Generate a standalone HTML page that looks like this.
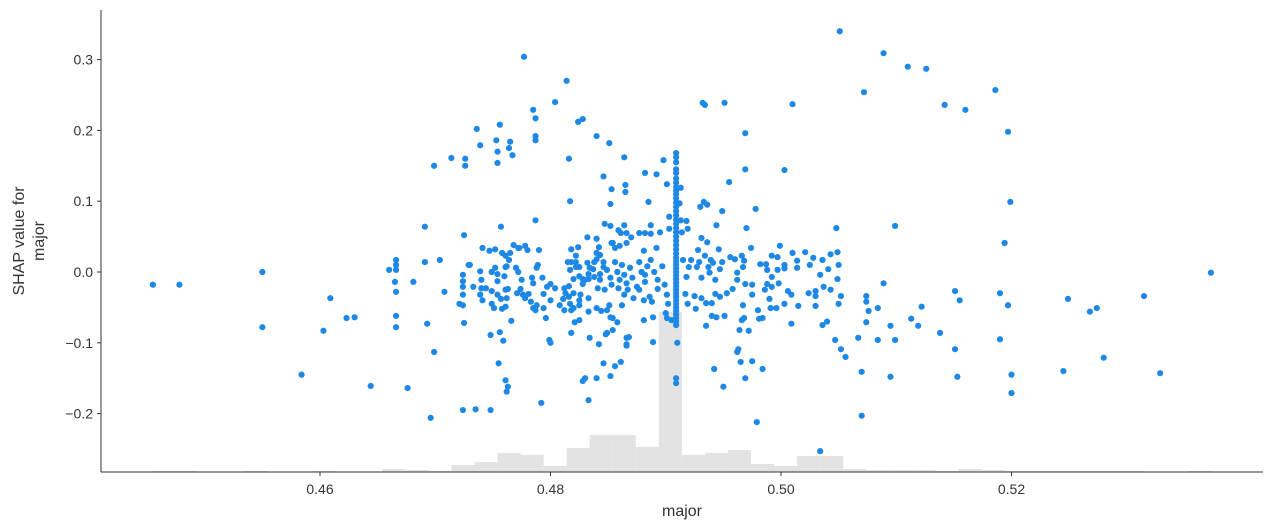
<!DOCTYPE html>
<html><head><meta charset="utf-8"><style>
body{margin:0;background:#fff;}
svg{display:block;font-family:"Liberation Sans","DejaVu Sans",sans-serif;}
</style></head><body>
<svg id="chart" width="1273" height="530" viewBox="0 0 1273 530" xmlns="http://www.w3.org/2000/svg">
<g id="hist"></g>
<g id="dots"></g>
<g id="axes"></g>
<text x="682" y="516" text-anchor="middle" font-size="16" fill="#333">major</text>
<text transform="translate(24,241) rotate(-90)" text-anchor="middle" font-size="16" fill="#333"><tspan x="0" y="0">SHAP value for</tspan><tspan x="0" y="20">major</tspan></text>
</svg>
<script>
const xTicks=[0.46,0.48,0.50,0.52];
const xTickLabels=["0.46","0.48","0.50","0.52"];
const yTicks=[-0.2,-0.1,0.0,0.1,0.2,0.3];
const yTickLabels=["−0.2","−0.1","0.0","0.1","0.2","0.3"];
const histStart=0.4454, histWidth=0.002;
const histCounts=[1,1,0,0,1,0,0,1,0,0,3,2,1,7,10,19,17,6,24,37,37,25,160,17,19,22,8,6,16,16,3,2,2,2,1,3,2,1,1,1,1,1,1,0,0,1];
const columnX=0.4909;
const columnY=[0.168,0.162,0.155,0.145,0.14,0.132,0.126,0.12,0.115,0.11,0.104,0.098,0.092,0.086,0.08,0.074,0.068,0.062,0.056,0.05,0.044,0.038,0.032,0.026,0.02,0.015,0.01,0.005,0,-0.005,-0.01,-0.015,-0.02,-0.025,-0.03,-0.035,-0.04,-0.045,-0.05,-0.055,-0.06,-0.065,-0.07,-0.075,-0.15,-0.157];
const points=[
[0.4455,-0.018],[0.4478,-0.018],[0.455,0.0],[0.455,-0.078],[0.4584,-0.145],[0.4603,-0.083],[0.4609,-0.037],[0.4623,-0.065],[0.4630,-0.064],[0.4644,-0.161],[0.466,0.003],[0.4665,-0.014],
[0.4666,0.003],[0.4666,0.017],[0.4666,0.01],[0.4666,-0.028],[0.4666,-0.062],[0.4666,-0.078],[0.4676,-0.164],[0.4681,-0.014],[0.4691,0.064],[0.4691,0.014],[0.4693,-0.073],[0.4696,-0.206],[0.4699,0.15],[0.4699,-0.113],[0.4704,0.017],[0.4708,-0.028],[0.4714,0.161],[0.4721,-0.045],
[0.4724,-0.004],[0.4724,-0.013],[0.4724,-0.021],[0.4724,-0.032],[0.4724,-0.047],[0.4726,0.16],[0.4726,0.15],[0.4725,0.052],[0.4725,-0.072],[0.4724,-0.195],[0.473,0.01],[0.4735,-0.194],[0.4736,0.202],[0.4739,0.179],
[0.4748,-0.195],[0.4748,-0.089],[0.4751,-0.051],[0.4752,0.032],[0.4753,0.186],[0.4754,0.154],[0.4754,0.17],[0.4756,0.208],[0.4755,-0.129],[0.4756,-0.085],[0.4757,0.064],[0.4759,-0.097],[0.4761,-0.153],[0.4762,-0.169],[0.4763,-0.162],[0.4764,0.175],[0.4765,0.184],[0.4767,0.165],[0.4766,-0.069],[0.4768,0.038],[0.4772,0.034],[0.4777,0.304],[0.4778,0.037],[0.4785,0.229],[0.4787,0.186],[0.4787,0.192],[0.4787,0.073],[0.4787,0.217],[0.4792,-0.185],[0.479,0.031],[0.4799,-0.096],[0.48,-0.1],
[0.4804,0.24],[0.4814,0.27],[0.4816,0.16],[0.4817,0.1],[0.4818,-0.086],[0.4824,0.212],[0.4828,0.216],[0.4828,-0.154],[0.483,-0.15],[0.4833,-0.181],[0.484,0.192],[0.484,-0.15],[0.4846,-0.129],[0.4851,0.182],[0.4852,-0.147],[0.4846,0.135],[0.4856,-0.133],[0.4861,-0.127],[0.4864,0.162],[0.4866,-0.104],[0.4868,-0.092],[0.4882,0.14],[0.4889,-0.099],[0.4892,0.138],[0.4898,0.158],[0.491,-0.1],
[0.4932,0.239],[0.4934,0.236],[0.4951,0.239],[0.4942,-0.137],[0.495,-0.162],[0.4962,-0.113],[0.4963,-0.109],[0.4965,-0.127],[0.4969,-0.15],[0.4975,-0.126],[0.4979,-0.212],[0.4984,-0.137],[0.4969,0.196],[0.4969,0.145],[0.4978,0.089],[0.5003,0.144],[0.501,0.237],[0.5048,0.062],[0.5051,0.34],[0.5034,-0.253],[0.5047,-0.096],[0.5052,-0.109],[0.5056,-0.12],[0.5067,-0.093],[0.507,-0.141],[0.507,-0.203],[0.5072,0.254],[0.5089,0.309],[0.5099,-0.096],[0.511,0.29],[0.5126,0.287],[0.5142,0.236],[0.516,0.229],[0.5186,0.257],[0.5197,0.198],[0.5199,0.099],[0.5194,0.041],[0.5197,-0.047],[0.52,-0.171],[0.52,-0.145],[0.519,-0.03],[0.519,-0.095],
[0.5155,-0.04],[0.5151,-0.027],[0.5151,-0.109],[0.5153,-0.148],[0.5138,-0.086],[0.5119,-0.076],[0.5122,-0.049],[0.5113,-0.066],[0.5095,-0.076],[0.5084,-0.096],[0.5095,-0.148],[0.5089,-0.016],[0.5099,0.065],[0.5074,-0.034],[0.5074,-0.042],[0.5074,-0.071],[0.5084,-0.051],[0.5076,-0.055],
[0.5249,-0.038],[0.5245,-0.14],[0.5268,-0.056],[0.5274,-0.051],[0.528,-0.121],[0.5315,-0.034],[0.5329,-0.143],[0.5373,-0.001],
[0.4729,0.010],[0.4733,-0.021],[0.4739,0.001],[0.4740,-0.011],[0.4740,-0.023],[0.4741,0.034],[0.4747,0.030],[0.4744,-0.023],[0.4739,-0.032],[0.4741,-0.040],[0.4749,0.000],[0.4752,0.006],[0.4754,-0.003],[0.4754,-0.013],[0.4749,-0.027],[0.4749,-0.045],[0.4754,-0.032],[0.4757,-0.038],[0.4758,-0.052],[0.4760,-0.006],[0.4761,0.007],[0.4762,0.008],[0.4758,0.027],[0.4761,0.023],[0.4764,0.017],[0.4765,0.027],[0.4773,0.034],[0.4780,0.031],[0.4770,0.006],[0.4772,0.0],[0.4761,-0.025],[0.4763,-0.024],[0.4762,-0.037],[0.4761,-0.049],[0.4771,-0.030],[0.4774,-0.024],[0.4775,-0.011],[0.4776,-0.032],[0.4778,-0.037],[0.4781,-0.031],[0.4784,-0.008],[0.4785,-0.016],[0.4788,0.006],[0.4789,0.010],[0.4793,-0.008],[0.4794,-0.031],[0.4797,-0.021],[0.4783,-0.042],[0.4785,-0.051],[0.4787,-0.054],[0.4788,-0.047],[0.4794,-0.051],[0.4796,-0.065],
[0.4800,-0.017],[0.4804,-0.023],[0.4800,-0.040],[0.4808,-0.047],[0.4811,-0.038],[0.4812,-0.023],[0.4813,-0.030],[0.4812,-0.054],[0.4816,-0.035],[0.4817,-0.045],[0.4818,-0.054],[0.4816,-0.020],[0.4817,0.003],[0.4815,0.014],[0.4818,0.014],[0.4822,0.014],[0.4822,0.023],[0.4818,0.032],[0.4824,0.035],[0.4822,0.007],[0.4825,0.007],[0.4820,-0.010],[0.4825,-0.006],[0.4828,-0.010],[0.4830,-0.011],[0.4828,-0.017],[0.4833,-0.010],[0.4833,-0.003],[0.4832,0.013],[0.4832,0.049],[0.4840,0.047],[0.4842,0.035],[0.4840,0.027],[0.4840,0.018],[0.4843,0.024],[0.4837,0.004],[0.4838,-0.007],[0.4843,-0.003],[0.4846,0.007],[0.4847,0.068],[0.4852,0.065],[0.4853,0.041],[0.4856,0.034],[0.4853,0.117],[0.4852,0.096],[0.4826,-0.032],[0.4820,-0.030],[0.4825,-0.040],[0.4833,-0.037],[0.4825,-0.047],[0.4820,-0.051],[0.4825,-0.068],[0.4833,-0.056],[0.4821,-0.071],[0.4834,-0.093],[0.4842,-0.102],[0.4844,-0.055],[0.4849,-0.054],[0.4840,-0.051],[0.4849,-0.086],[0.4852,-0.064],[0.4854,-0.082],[0.4851,-0.047],
[0.4865,0.123],[0.4865,0.113],[0.4885,0.099],[0.4859,0.059],[0.4864,0.066],[0.4861,0.055],[0.4866,0.055],[0.4870,0.049],[0.4866,0.041],[0.4860,0.037],[0.4854,0.041],[0.4877,0.055],[0.4882,0.055],[0.4887,0.054],[0.4887,0.066],[0.4895,0.056],[0.4892,0.034],[0.4881,0.030],[0.4903,0.061],[0.4903,0.078],[0.4901,0.124],[0.4913,0.119],[0.4912,0.097],[0.4913,0.073],[0.4918,0.072],[0.4919,0.061],[0.4914,0.056],[0.4930,0.092],[0.4933,0.099],[0.4936,0.095],[0.4949,0.086],[0.4955,0.127],[0.4944,0.066],[0.4970,0.062],
[0.4931,0.048],[0.4936,0.042],[0.4928,0.031],[0.4946,0.032],[0.4934,0.023],[0.4939,0.017],[0.4956,0.021],[0.4960,0.018],[0.4966,0.023],[0.4968,0.016],[0.4974,0.034],[0.4999,0.037],[0.4992,0.023],[0.4997,0.021],[0.5010,0.027],[0.5014,0.016],[0.5028,0.020],[0.5036,0.017],[0.5043,0.025],[0.5049,0.028],[0.5050,0.010],[0.5041,0.004],[0.5025,0.010],[0.5014,0.006],[0.4997,0.003],[0.4987,0.011],[0.4982,0.011],[0.4988,0.003],[0.4992,-0.007],[0.4988,-0.017],[0.4986,-0.025],[0.4992,-0.021],[0.4998,-0.016],[0.5006,-0.027],[0.5009,-0.032],[0.5003,-0.045],[0.5015,-0.048],[0.5030,-0.027],[0.5030,-0.034],[0.5037,-0.021],[0.5043,-0.025],[0.5049,-0.010],[0.5052,-0.034],[0.5030,-0.048],[0.5050,-0.045],
[0.4990,-0.038],[0.4996,-0.051],[0.4991,-0.051],[0.4980,-0.054],[0.4984,-0.065],[0.4981,-0.066],[0.5009,-0.073],[0.4975,-0.032],[0.4967,-0.047],[0.4968,-0.065],[0.4966,-0.068],[0.4964,-0.082],[0.4972,-0.083],[0.4951,-0.062],[0.4944,-0.064],[0.4940,-0.062],[0.4935,-0.076],[0.4931,-0.037],[0.4926,-0.052],[0.4919,-0.045],[0.4917,-0.031],[0.4925,-0.034],[0.4935,-0.044],[0.4940,-0.044],[0.4943,-0.031],[0.4947,-0.035],[0.4953,-0.030],[0.4958,-0.024],[0.4962,-0.011],[0.4969,-0.017],[0.4975,-0.018],[0.4962,-0.001],[0.4967,0.007],[0.4947,0.004],[0.4943,-0.011],[0.4938,-0.001],[0.4931,-0.008],[0.4927,0.007],[0.4920,0.007],[0.4922,0.017],[0.4915,0.017],[0.4918,-0.007],[0.4929,0.014],[0.4937,0.007],[0.4941,0.013],[0.4949,0.014],
[0.4889,-0.064],[0.4881,-0.068],[0.4866,-0.093],[0.4866,-0.102],[0.4858,-0.071],[0.4848,-0.088],[0.4854,-0.065],[0.4862,-0.047],[0.4864,-0.032],[0.4886,-0.035],[0.4888,-0.042],[0.4881,-0.040],[0.4875,-0.021],[0.4893,-0.024],[0.4901,-0.032],[0.4902,-0.045],[0.4900,-0.058],[0.4901,-0.065],[0.4905,-0.068],
[0.4846,0.014],[0.4849,0.003],[0.4852,-0.008],[0.4853,-0.018],[0.4847,-0.025],[0.4856,0.014],[0.4858,0.0],[0.4860,-0.011],[0.4859,-0.023],[0.4862,0.010],[0.4864,-0.004],[0.4866,-0.016],[0.4869,0.006],[0.4867,-0.025],[0.4871,-0.008],[0.4877,0.014],[0.4879,0.0],[0.4882,-0.014],[0.4884,0.008],[0.4890,0.0],[0.4887,0.017],[0.4893,-0.011],[0.4897,0.008],[0.4899,-0.018],[0.4877,-0.025],[0.4872,-0.037],[0.4882,-0.004],[0.4843,-0.011],[0.4841,-0.023],[0.4838,0.014],[0.4834,0.006],
[0.5003,0.010],[0.5003,0.005],[0.5024,-0.030],[0.5034,-0.004],[0.5036,-0.075],[0.5040,-0.070],[0.5021,0.028]
];
const NS="http://www.w3.org/2000/svg";
const X0=101,X1=1263,Y0=10,Y1=472;
function xs(v){return 320+(v-0.46)*11525;}
function ys(v){return 272-v*708;}
const maxCount=Math.max(...histCounts);
function hs(c){return c/maxCount*160;}
const hist=document.getElementById('hist');
histCounts.forEach((c,i)=>{
  if(c<=0)return;
  const x=xs(histStart+i*histWidth), w=xs(histStart+(i+1)*histWidth)-x, h=hs(c);
  const r=document.createElementNS(NS,'rect');
  r.setAttribute('x',x);r.setAttribute('y',Y1-h);r.setAttribute('width',w);r.setAttribute('height',h);
  r.setAttribute('fill','#e3e3e3');
  
  
  hist.appendChild(r);
});
const dots=document.getElementById('dots');
function dot(x,y){
  const c=document.createElementNS(NS,'circle');
  c.setAttribute('cx',xs(x));c.setAttribute('cy',ys(y));c.setAttribute('r',3.1);
  c.setAttribute('fill','#1E88E5');
  
  
  dots.appendChild(c);
}
points.forEach(p=>dot(p[0],p[1]));
columnY.forEach(y=>dot(columnX,y));
const axes=document.getElementById('axes');
function line(x1,y1,x2,y2,name){
  const l=document.createElementNS(NS,'line');
  l.setAttribute('x1',x1);l.setAttribute('y1',y1);l.setAttribute('x2',x2);l.setAttribute('y2',y2);
  l.setAttribute('stroke','#333');l.setAttribute('stroke-width','1');
  
  
  axes.appendChild(l);
}
function text(x,y,s,anchor,name){
  const t=document.createElementNS(NS,'text');
  t.setAttribute('x',x);t.setAttribute('y',y);t.setAttribute('text-anchor',anchor);
  t.setAttribute('font-size','14');t.setAttribute('fill','#333');
  t.textContent=s;
  
  
  axes.appendChild(t);
}
line(X0,Y0,X0,Y1,'y-axis-line');
line(X0,Y1,X1,Y1,'x-axis-line');
xTicks.forEach((v,i)=>{const x=xs(v);line(x,Y1,x,Y1+4,'x-tick');text(x,Y1+22,xTickLabels[i],'middle','x-tick-label');});
yTicks.forEach((v,i)=>{const y=ys(v);line(X0-4,y,X0,y,'y-tick');text(X0-8,y+5,yTickLabels[i],'end','y-tick-label');});
</script>
</body></html>
